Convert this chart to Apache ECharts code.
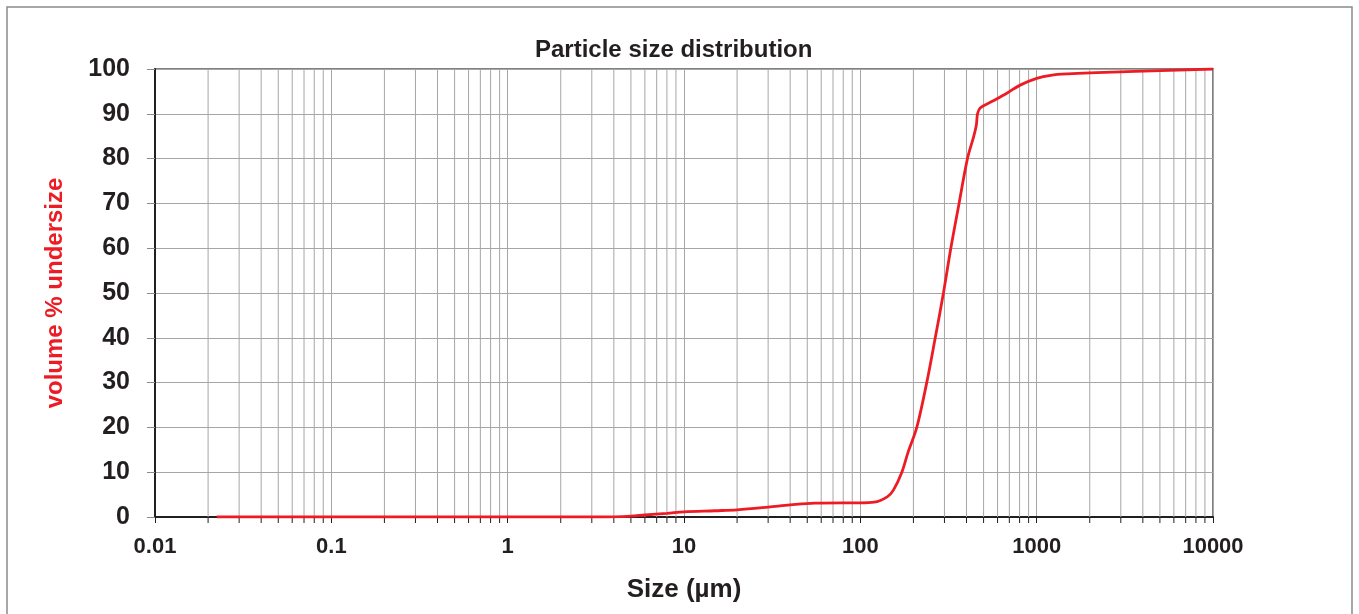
<!DOCTYPE html>
<html>
<head>
<meta charset="utf-8">
<script src="https://cdn.jsdelivr.net/npm/echarts@6/dist/echarts.min.js"></script>
<style>
  html, body { margin: 0; padding: 0; background: #fff; }
  #container { width: 1359px; height: 614px; }
</style>
</head>
<body>
<div id="container"></div>
<script>
// particle sizes (µm) and cumulative volume % undersize
var sizes = [0.0224, 0.1, 1, 3, 4, 5, 6, 8, 10, 15, 20, 30, 40, 55, 80, 100, 120, 142, 154, 172, 187, 209, 238, 266, 296, 326, 363, 405, 440, 455, 462, 478, 567, 677, 806, 1000, 1200, 1500, 3245, 10000];
var undersize = [0, 0, 0, 0, 0.05, 0.2, 0.45, 0.8, 1.15, 1.4, 1.6, 2.2, 2.7, 3.1, 3.15, 3.15, 3.3, 4.5, 6, 10, 14.6, 20, 30, 40, 50, 60, 70, 80, 85, 87.5, 90, 91.3, 92.9, 94.6, 96.4, 97.9, 98.6, 98.9, 99.4, 100];

// decades of the log axis and the minor multipliers inside each
var decades = [0.01, 0.1, 1, 10, 100, 1000];
var minorSteps = [2, 3, 4, 5, 6, 7, 8, 9];

var minorVals = [];
decades.forEach(function (d) {
    minorSteps.forEach(function (m) {
        minorVals.push([d * m]);
    });
});

var points = sizes.map(function (s, i) { return [s, undersize[i]]; });

var font = 'Liberation Sans, Arial';
var myChart = echarts.init(document.getElementById('container'));
var option = {
    animation: false,
    backgroundColor: '#fff',
    title: {
        text: 'Particle size distribution',
        left: 530,
        top: 33,
        textStyle: {
            fontFamily: font,
            fontWeight: 'bold',
            fontSize: 24,
            color: '#231f20'
        }
    },
    graphic: [{
        type: 'rect',
        shape: { x: 7, y: 7, width: 1345, height: 640 },
        style: { fill: 'none', stroke: '#8a8a8a', lineWidth: 1.5 },
        silent: true
    }],
    grid: {
        left: 155,
        right: 146,
        top: 69,
        bottom: 97,
        show: true,
        borderColor: '#808080',
        borderWidth: 2
    },
    xAxis: {
        type: 'log',
        logBase: 10,
        min: 0.01,
        max: 10000,
        name: 'Size (µm)',
        nameLocation: 'middle',
        nameGap: 60,
        nameTextStyle: {
            fontFamily: font,
            fontWeight: 'bold',
            fontSize: 26,
            color: '#231f20'
        },
        axisLine: { onZero: false, lineStyle: { color: '#231f20', width: 2 } },
        axisTick: { show: true, length: 6, lineStyle: { color: '#231f20', width: 1 } },
        axisLabel: {
            margin: 19,
            fontFamily: font,
            fontWeight: 'bold',
            fontSize: 22,
            color: '#231f20',
            formatter: function (v) {
                return String(+v.toPrecision(6));
            }
        },
        splitLine: { show: true, lineStyle: { color: '#a6a6a6', width: 1 } }
    },
    yAxis: {
        type: 'value',
        min: 0,
        max: 100,
        interval: 10,
        name: 'volume % undersize',
        nameLocation: 'middle',
        nameGap: 88,
        nameTextStyle: {
            fontFamily: font,
            fontWeight: 'bold',
            fontSize: 24,
            color: '#ed1c24'
        },
        axisLine: { show: true, lineStyle: { color: '#231f20', width: 2 } },
        axisTick: { show: true, length: 8, lineStyle: { color: '#8a8a8a', width: 1 } },
        axisLabel: {
            margin: 25,
            fontFamily: font,
            fontWeight: 'bold',
            fontSize: 25,
            color: '#231f20'
        },
        splitLine: { show: true, lineStyle: { color: '#a6a6a6', width: 1 } }
    },
    series: [{
        // minor log grid lines and ticks at 2..9 of every decade
        type: 'custom',
        silent: true,
        z: 1,
        clip: false,
        data: minorVals,
        encode: { x: 0 },
        renderItem: function (params, api) {
            var top = api.coord([api.value(0), 100]);
            var bot = api.coord([api.value(0), 0]);
            return {
                type: 'group',
                children: [{
                    type: 'line',
                    shape: { x1: top[0], y1: top[1], x2: bot[0], y2: bot[1] },
                    style: { stroke: '#a6a6a6', lineWidth: 1 }
                }, {
                    type: 'line',
                    shape: { x1: bot[0], y1: bot[1], x2: bot[0], y2: bot[1] + 6 },
                    style: { stroke: '#231f20', lineWidth: 1 }
                }]
            };
        }
    }, {
        name: 'volume % undersize',
        type: 'line',
        z: 5,
        data: points,
        showSymbol: false,
        symbol: 'none',
        smooth: 0.35,
        lineStyle: { color: '#ed1c24', width: 2.8 }
    }]
};
myChart.setOption(option);
</script>
</body>
</html>
